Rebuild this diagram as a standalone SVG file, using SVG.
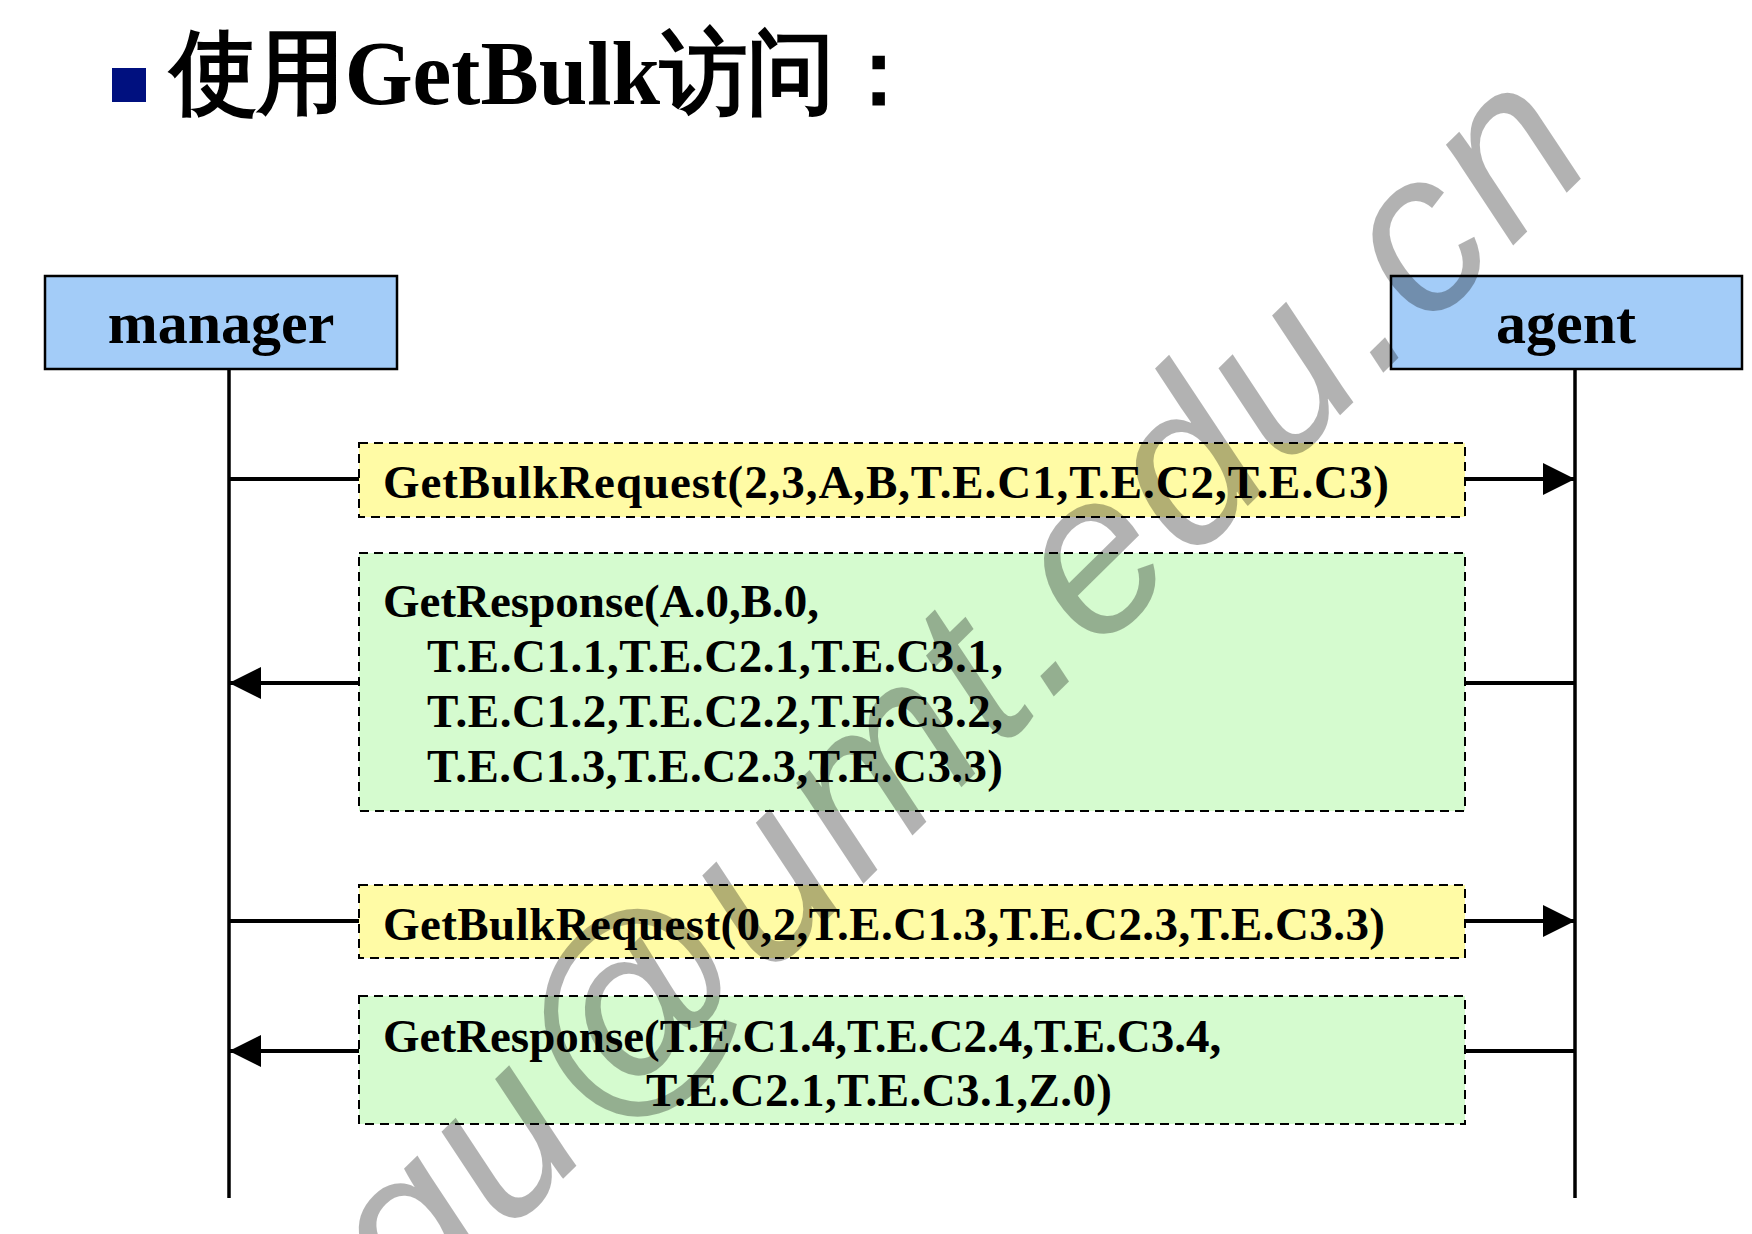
<svg xmlns="http://www.w3.org/2000/svg" width="1752" height="1234" viewBox="0 0 1752 1234">
  <style>
    .lbl { font-family: "Liberation Serif", "Times New Roman", serif; font-weight: bold; fill: #000; }
    .actor { fill: #A3CCF8; stroke: #000; stroke-width: 2.5; }
    .req { fill: #FFFBA5; stroke: #000; stroke-width: 2; stroke-dasharray: 9 6; }
    .resp { fill: #D5FBCF; stroke: #000; stroke-width: 2; stroke-dasharray: 9 6; }
    .life { stroke: #000; stroke-width: 3.5; fill: none; }
    .msg { stroke: #000; stroke-width: 4; fill: none; }
    .wm { font-family: "Liberation Sans", Arial, sans-serif; font-style: italic; fill: #000; fill-opacity: 0.3; letter-spacing: 6px; }
  </style>
  <defs>
    <marker id="arrow" markerUnits="userSpaceOnUse" markerWidth="32" markerHeight="32" refX="32" refY="16" orient="auto">
      <path d="M0,0 L32,16 L0,32 Z" fill="#000"/>
    </marker>
  </defs>
  <rect width="1752" height="1234" fill="#fff"/>

  <g id="title">
    <rect x="112" y="68" width="34" height="34" fill="#00107F"/>
    <text class="lbl" x="170" y="104" font-size="92" textLength="752" lengthAdjust="spacingAndGlyphs" font-family="Liberation Serif, Noto Sans CJK SC, serif">使用GetBulk访问：</text>
  </g>

  <g id="manager">
    <rect class="actor" x="45" y="276" width="352" height="93"/>
    <text class="lbl" x="221" y="343" font-size="60" text-anchor="middle">manager</text>
  </g>
  <g id="agent">
    <rect class="actor" x="1391" y="276" width="351" height="93"/>
    <text class="lbl" x="1566" y="343" font-size="60" text-anchor="middle">agent</text>
  </g>

  <g id="lifelines">
    <line class="life" x1="229" y1="369" x2="229" y2="1198"/>
    <line class="life" x1="1575" y1="369" x2="1575" y2="1198"/>
  </g>

  <g id="connectors">
    <line class="msg" x1="229" y1="479" x2="359" y2="479"/>
    <line class="msg" x1="1465" y1="479" x2="1575" y2="479" marker-end="url(#arrow)"/>
    <line class="msg" x1="1465" y1="683" x2="1575" y2="683"/>
    <line class="msg" x1="359" y1="683" x2="229" y2="683" marker-end="url(#arrow)"/>
    <line class="msg" x1="229" y1="921" x2="359" y2="921"/>
    <line class="msg" x1="1465" y1="921" x2="1575" y2="921" marker-end="url(#arrow)"/>
    <line class="msg" x1="1465" y1="1051" x2="1575" y2="1051"/>
    <line class="msg" x1="359" y1="1051" x2="229" y2="1051" marker-end="url(#arrow)"/>
  </g>

  <g id="msg1">
    <rect class="req" x="359" y="443" width="1106" height="74"/>
    <text class="lbl" x="383" y="498" font-size="47" textLength="1006" lengthAdjust="spacing">GetBulkRequest(2,3,A,B,T.E.C1,T.E.C2,T.E.C3)</text>
  </g>
  <g id="msg2">
    <rect class="resp" x="359" y="553" width="1106" height="258"/>
    <text class="lbl" font-size="47">
      <tspan x="383" y="617">GetResponse(A.0,B.0,</tspan>
      <tspan x="427" y="672" textLength="576" lengthAdjust="spacing">T.E.C1.1,T.E.C2.1,T.E.C3.1,</tspan>
      <tspan x="427" y="727" textLength="576" lengthAdjust="spacing">T.E.C1.2,T.E.C2.2,T.E.C3.2,</tspan>
      <tspan x="427" y="782" textLength="576" lengthAdjust="spacing">T.E.C1.3,T.E.C2.3,T.E.C3.3)</tspan>
    </text>
  </g>
  <g id="msg3">
    <rect class="req" x="359" y="885" width="1106" height="73"/>
    <text class="lbl" x="383" y="940" font-size="47" textLength="1002" lengthAdjust="spacing">GetBulkRequest(0,2,T.E.C1.3,T.E.C2.3,T.E.C3.3)</text>
  </g>
  <g id="msg4">
    <rect class="resp" x="359" y="996" width="1106" height="128"/>
    <text class="lbl" font-size="47">
      <tspan x="383" y="1052">GetResponse(T.E.C1.4,T.E.C2.4,T.E.C3.4,</tspan>
      <tspan x="646" y="1106" textLength="466" lengthAdjust="spacing">T.E.C2.1,T.E.C3.1,Z.0)</tspan>
    </text>
  </g>

  <g id="watermark">
    <text class="wm" x="0" y="0" font-size="225" text-anchor="end" transform="translate(1604,156) rotate(-44.5)">gu@umt.edu.cn</text>
  </g>
</svg>
